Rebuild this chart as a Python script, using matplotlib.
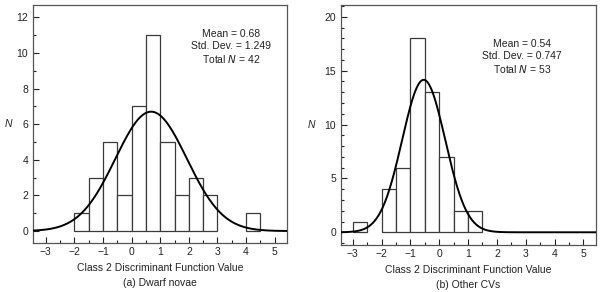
import numpy as np
import matplotlib
matplotlib.use("Agg")
import matplotlib.pyplot as plt
from matplotlib.ticker import MultipleLocator

plt.rcParams['font.family'] = ['Liberation Sans', 'DejaVu Sans']

# Data
bin_width = 0.5
dn_left_edges = [-2.0, -1.5, -1.0, -0.5, 0.0, 0.5, 1.0, 1.5, 2.0, 2.5, 3.0, 3.5, 4.0]
dn_counts = [1, 3, 5, 2, 7, 11, 5, 2, 3, 2, 0, 0, 1]
dn_mean, dn_std, dn_n = 0.68, 1.249, 42

cv_left_edges = [-3.0, -2.5, -2.0, -1.5, -1.0, -0.5, 0.0, 0.5, 1.0]
cv_counts = [1, 0, 4, 6, 18, 13, 7, 2, 2]
cv_mean, cv_std, cv_n = -0.54, 0.747, 53
cv_mean_label = "0.54"

xlabel = "Class 2 Discriminant Function Value"
captions = ["(a) Dwarf novae", "(b) Other CVs"]

fig = plt.figure(figsize=(6.0, 2.92), dpi=100)
W, H = 600, 292
def add_ax(l, t, r, b):
    return fig.add_axes([l / W, 1 - b / H, (r - l) / W, (b - t) / H])

ax1 = add_ax(33, 5, 287, 243)
ax2 = add_ax(341, 5, 596, 245)

fs = 7.5
spine_col = '#555555'

def draw(ax, edges, counts, mean, std, n, xlim, ylim, ymaj, ymin_, stats_txt, caption, txt_xy, ylab_x):
    edges = np.asarray(edges)
    counts = np.asarray(counts)
    nz = counts > 0
    ax.bar(edges[nz], counts[nz], width=bin_width, align='edge', facecolor='white',
           edgecolor='#3a3a3a', linewidth=0.9, zorder=2)
    x = np.linspace(xlim[0], xlim[1], 500)
    y = n * bin_width / (np.sqrt(2 * np.pi) * std) * np.exp(-0.5 * ((x - mean) / std) ** 2)
    ax.plot(x, y, color='black', linewidth=1.4, zorder=3)
    ax.set_xlim(*xlim)
    ax.set_ylim(*ylim)
    ax.xaxis.set_major_locator(MultipleLocator(1))
    ax.xaxis.set_minor_locator(MultipleLocator(0.5))
    ax.yaxis.set_major_locator(MultipleLocator(ymaj))
    ax.yaxis.set_minor_locator(MultipleLocator(ymin_))
    ax.tick_params(which='both', direction='in', labelsize=fs, colors='#222222', width=0.8)
    ax.tick_params(which='major', length=4)
    ax.tick_params(which='minor', length=2.5)
    ax.tick_params(axis='x', pad=3)
    for s in ax.spines.values():
        s.set_color(spine_col)
        s.set_linewidth(0.9)
    ax.set_xlabel(xlabel + "\n" + caption, fontsize=fs, labelpad=4, color='#222222', linespacing=1.7)
    ax.set_ylabel("N", fontsize=fs, style='italic', rotation=0, color='#222222', va='center', ha='center')
    ax.yaxis.set_label_coords(ylab_x, 0.5)
    ax.text(txt_xy[0], txt_xy[1], stats_txt, transform=ax.transAxes, ha='center', va='top',
            fontsize=fs, linespacing=1.25, color='#222222')

draw(ax1, dn_left_edges, dn_counts, dn_mean, dn_std, dn_n, (-3.45, 5.43), (-0.67, 12.7), 2, 1,
     "Mean = %.2f\nStd. Dev. = %.3f\nTotal $\\it{N}$ = %d" % (dn_mean, dn_std, dn_n),
     captions[0], (0.78, 0.90), (8 - 33) / 254)
draw(ax2, cv_left_edges, cv_counts, cv_mean, cv_std, cv_n, (-3.41, 5.44), (-1.18, 21.1), 5, 1,
     "Mean = %s\nStd. Dev. = %.3f\nTotal $\\it{N}$ = %d" % (cv_mean_label, cv_std, cv_n),
     captions[1], (0.71, 0.86), (311 - 341) / 255)

fig.savefig("out.png", dpi=100)
